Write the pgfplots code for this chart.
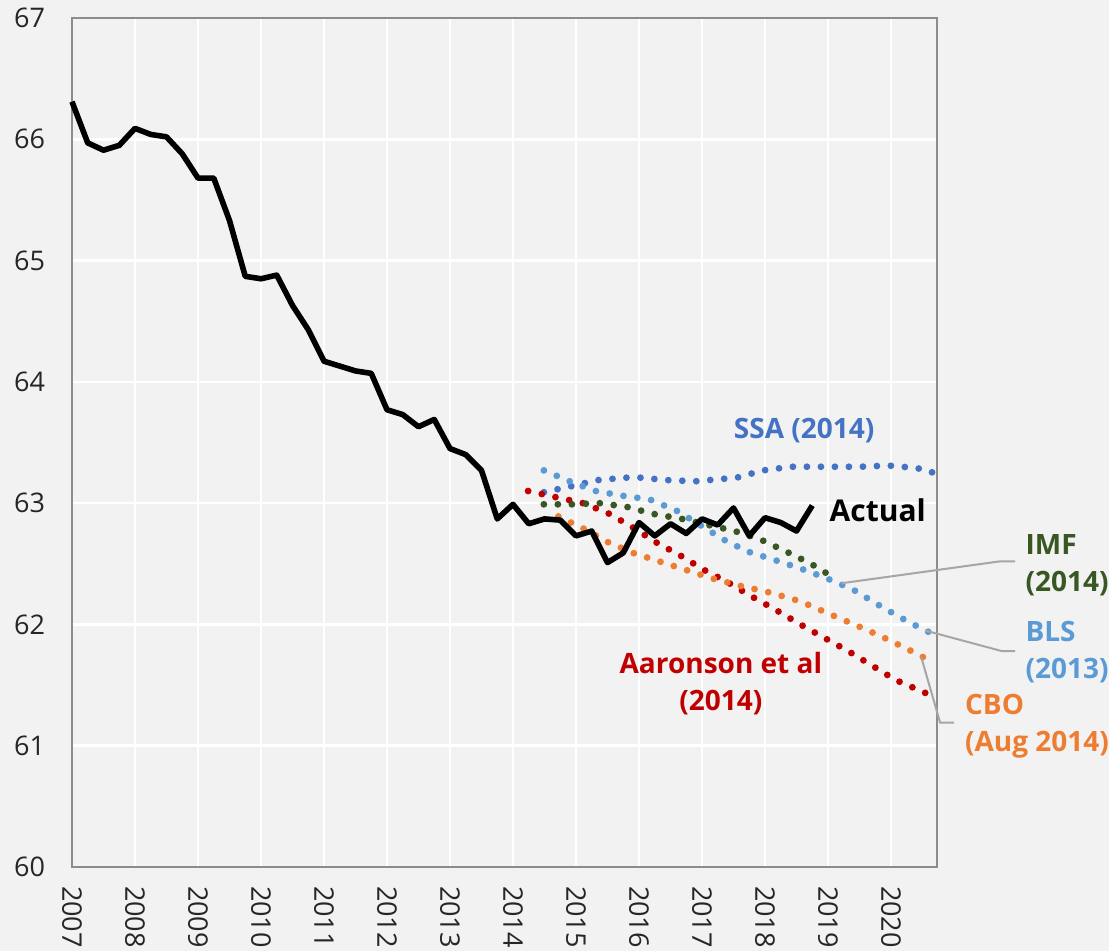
\documentclass[border=0pt]{standalone}
\usepackage{fontspec}
\setmainfont{Open Sans}
\usepackage{pgfplots}
\pgfplotsset{compat=1.18}
\definecolor{bgc}{HTML}{F2F2F2}
\definecolor{ssa}{HTML}{4472C4}
\definecolor{bls}{HTML}{5B9BD5}
\definecolor{imf}{HTML}{385723}
\definecolor{cbo}{HTML}{ED7D31}
\definecolor{aar}{HTML}{C00000}
\definecolor{callout}{HTML}{A6A6A6}
\tikzset{dots/.style={line width=3.4pt, line cap=round, dash pattern=on 0pt off 7pt}}
\begin{document}
\begin{tikzpicture}
\fill[bgc] (-36pt,-42pt) rectangle (518.5pt,433.5pt);
\useasboundingbox (-36pt,-42pt) rectangle (518.5pt,433.5pt);
\begin{axis}[
  at={(0,0)}, anchor=south west, scale only axis,
  width=432.5pt, height=424.5pt,
  xmin=2007, xmax=2020.73, ymin=60, ymax=67,
  xtick={2007,...,2020},
  xticklabels={2007,2008,2009,2010,2011,2012,2013,2014,2015,2016,2017,2018,2019,2020},
  ytick={60,...,67},
  yticklabels={60,61,62,63,64,65,66,67},
  grid=major, major grid style={white, line width=1.3pt},
  major tick length=0pt,
  axis background/.style={fill=bgc},
  axis line style={draw=black!45, line width=1pt},
  tick label style={font=\fontsize{13.5}{16}\selectfont, text=black!85},
  xticklabel style={rotate=-90, anchor=west},
  xticklabel shift=6pt,
  yticklabel shift=10pt,
  clip=false,
]
% SSA (2014)
\addplot[ssa, dots] coordinates {
(2014.49,63.09)(2014.93,63.14)(2015.35,63.19)(2015.79,63.21)(2016.02,63.21)(2016.45,63.19)(2016.89,63.18)(2017.33,63.20)(2017.55,63.21)(2017.97,63.27)(2018.41,63.30)(2019.0,63.30)(2019.51,63.30)(2019.96,63.31)(2020.39,63.29)(2020.60,63.27)(2020.73,63.23)};
% Aaronson et al (2014)
\addplot[aar, dots] coordinates {
(2014.24,63.10)(2014.67,63.05)(2015.11,63.00)(2015.50,62.92)(2015.87,62.81)(2016.26,62.68)(2016.65,62.57)(2017.03,62.45)(2017.40,62.35)(2017.79,62.23)(2018.17,62.12)(2018.56,62.00)(2018.94,61.89)(2019.32,61.78)(2019.70,61.66)(2020.08,61.54)(2020.48,61.45)(2020.70,61.40)};
% CBO (Aug 2014)
\addplot[cbo, dots] coordinates {
(2014.72,62.89)(2015.12,62.79)(2015.50,62.68)(2015.90,62.59)(2016.32,62.52)(2016.74,62.45)(2017.16,62.38)(2017.59,62.32)(2018.02,62.27)(2018.44,62.21)(2018.65,62.17)(2019.05,62.08)(2019.46,61.99)(2019.85,61.90)(2020.25,61.80)(2020.66,61.69)};
% BLS (2013)
\addplot[bls, dots] coordinates {
(2014.49,63.27)(2014.90,63.18)(2015.31,63.10)(2015.75,63.06)(2016.17,63.03)(2016.59,62.94)(2016.97,62.82)(2017.34,62.70)(2017.73,62.60)(2018.16,62.53)(2018.57,62.46)(2018.98,62.38)(2019.39,62.29)(2019.77,62.17)(2020.14,62.06)(2020.54,61.95)(2020.73,61.91)};
% IMF (2014)
\addplot[imf, dots] coordinates {
(2014.49,62.99)(2014.93,62.99)(2015.37,63.00)(2015.80,62.97)(2016.24,62.91)(2016.68,62.87)(2017.10,62.82)(2017.52,62.77)(2017.93,62.70)(2018.34,62.60)(2018.73,62.50)(2019.11,62.38)};
% Actual
\addplot[black, line width=2.8pt, line join=round] coordinates {
(2007.00,66.31)(2007.25,65.97)(2007.50,65.91)(2007.75,65.95)
(2008.00,66.09)(2008.25,66.04)(2008.50,66.02)(2008.75,65.88)
(2009.00,65.68)(2009.25,65.68)(2009.50,65.33)(2009.75,64.87)
(2010.00,64.85)(2010.25,64.88)(2010.50,64.63)(2010.75,64.43)
(2011.00,64.17)(2011.25,64.13)(2011.50,64.09)(2011.75,64.07)
(2012.00,63.77)(2012.25,63.73)(2012.50,63.63)(2012.75,63.69)
(2013.00,63.45)(2013.25,63.40)(2013.50,63.27)(2013.75,62.87)
(2014.00,62.99)(2014.25,62.83)(2014.50,62.87)(2014.75,62.86)
(2015.00,62.73)(2015.25,62.77)(2015.50,62.51)(2015.75,62.59)
(2016.00,62.84)(2016.25,62.73)(2016.50,62.83)(2016.75,62.75)
(2017.00,62.87)(2017.25,62.82)(2017.50,62.96)(2017.75,62.73)
(2018.00,62.88)(2018.25,62.84)(2018.50,62.77)(2018.75,62.98)};
% callouts
\draw[callout, line width=1pt] (axis cs:2019.22,62.34) -- (axis cs:2021.73,62.52) -- (axis cs:2021.97,62.52);
\draw[callout, line width=1pt] (axis cs:2020.54,61.95) -- (axis cs:2021.76,61.78) -- (axis cs:2021.97,61.78);
\draw[callout, line width=1pt] (axis cs:2020.48,61.73) -- (axis cs:2020.78,61.19) -- (axis cs:2021.00,61.19);
% labels
\node[text=ssa, font=\bfseries\fontsize{14}{19}\selectfont] at (axis cs:2018.62,63.60) {SSA (2014)};
\node[text=black, font=\bfseries\fontsize{15}{19}\selectfont, anchor=west, inner sep=0pt] at (axis cs:2019.02,62.94) {Actual};
\node[text=aar, font=\bfseries\fontsize{14}{18.5}\selectfont, align=center] at (axis cs:2017.30,61.51) {Aaronson et al\\(2014)};
\node[text=imf, font=\bfseries\fontsize{14}{18.5}\selectfont, align=left, anchor=west, inner sep=0pt] at (axis cs:2022.13,62.49) {IMF\\(2014)};
\node[text=bls, font=\bfseries\fontsize{14}{18.5}\selectfont, align=left, anchor=west, inner sep=0pt] at (axis cs:2022.13,61.77) {BLS\\(2013)};
\node[text=cbo, font=\bfseries\fontsize{14}{18.5}\selectfont, align=left, anchor=west, inner sep=0pt] at (axis cs:2021.17,61.16) {CBO\\(Aug 2014)};
\end{axis}
\end{tikzpicture}
\end{document}
